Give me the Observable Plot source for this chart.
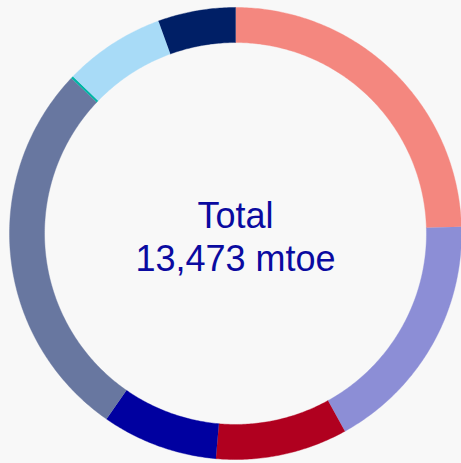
<!DOCTYPE html>
<html>
<head>
<meta charset="utf-8">
<script src="https://cdn.jsdelivr.net/npm/d3@7"></script>
<script src="https://cdn.jsdelivr.net/npm/@observablehq/plot@0.6"></script>
<style>
  html, body { margin: 0; padding: 0; background: #f8f8f8; }
  #chart svg { display: block; }
</style>
</head>
<body>
<div id="chart"></div>
<script>
// Segments, clockwise from 12 o'clock (values in mtoe)
const categories = ["Segment 1", "Segment 2", "Segment 3", "Segment 4", "Segment 5", "Segment 6", "Segment 7", "Segment 8"];
const values = [3305, 2348, 1270, 1116, 3690, 23, 975, 746];
const colors = ["#f4877f", "#8c8ed6", "#b0001f", "#0000a0", "#6877a0", "#00b5a5", "#a8dbf7", "#001f66"];
const totalLabel = "Total";
const totalValue = "13,473 mtoe";

const rOuter = 1, rInner = 0.845;

const pie = d3.pie().sort(null).value(d => d.value)(
  categories.map((c, i) => ({category: c, value: values[i]}))
);

// Build ring-sector outlines (outer arc, then inner arc back) for each slice
const pts = [];
pie.forEach(s => {
  const n = Math.max(2, Math.ceil((s.endAngle - s.startAngle) / 0.01));
  for (let k = 0; k <= n; k++) {
    const a = s.startAngle + (s.endAngle - s.startAngle) * k / n;
    pts.push({category: s.data.category, x: rOuter * Math.sin(a), y: rOuter * Math.cos(a)});
  }
  for (let k = n; k >= 0; k--) {
    const a = s.startAngle + (s.endAngle - s.startAngle) * k / n;
    pts.push({category: s.data.category, x: rInner * Math.sin(a), y: rInner * Math.cos(a)});
  }
});

const chart = Plot.plot({
  width: 461,
  height: 463,
  marginLeft: 9,
  marginRight: 0,
  marginTop: 7,
  marginBottom: 4,
  x: {domain: [-1, 1], axis: null},
  y: {domain: [-1, 1], axis: null},
  color: {domain: categories, range: colors},
  style: {background: "#f8f8f8", fontFamily: "Liberation Sans, Arial, sans-serif"},
  marks: [
    Plot.line(pts, {x: "x", y: "y", z: "category", fill: "category", stroke: "category", strokeWidth: 0.4, curve: "linear"}),
    Plot.text([totalLabel], {frameAnchor: "middle", text: d => d, lineAnchor: "bottom", dy: -6, fontSize: 36, fill: "#0a0aa0"}),
    Plot.text([totalValue], {frameAnchor: "middle", text: d => d, lineAnchor: "bottom", dy: 37, fontSize: 36, fill: "#0a0aa0"})
  ]
});
document.getElementById("chart").appendChild(chart);
</script>
</body>
</html>
